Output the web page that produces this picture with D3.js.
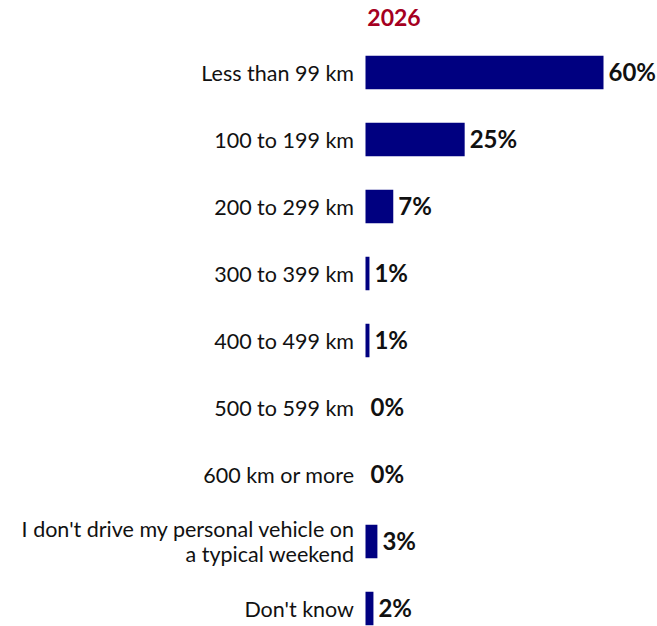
<!DOCTYPE html>
<html>
<head>
    <meta http-equiv="Content-Type" content="text/html;charset=utf-8">
    <script src="https://d3js.org/d3.v7.min.js"></script>
    <style>
        html, body {
            margin: 0;
            padding: 0;
            background: #fff;
        }

        svg {
            display: block;
            font-family: Lato, "Open Sans", sans-serif;
        }

        .cat text {
            font-size: 21.5px;
            fill: #111;
        }

        .val text {
            font-size: 24px;
            font-weight: bold;
            fill: #111;
        }

        .title {
            font-size: 23px;
            font-weight: bold;
            fill: #a50021;
        }
    </style>
</head>
<body>
<div id="chart"></div>
<script>
    // data
    var categories = [
        "Less than 99 km",
        "100 to 199 km",
        "200 to 299 km",
        "300 to 399 km",
        "400 to 499 km",
        "500 to 599 km",
        "600 km or more",
        "I don't drive my personal vehicle on|a typical weekend",
        "Don't know"
    ];
    var values2026 = [60, 25, 7, 1, 1, 0, 0, 3, 2];
    var seriesName = "2026";

    var width = 657,
        height = 626,
        barLeft = 365.5;

    var svg = d3.select("#chart").append("svg")
        .attr("width", width)
        .attr("height", height);

    var x = d3.scaleLinear()
        .domain([0, 60])
        .range([barLeft, barLeft + 238]);

    var y = d3.scaleBand()
        .domain(categories)
        .range([39, 642])
        .paddingInner(0.5)
        .paddingOuter(0.25);

    // series title
    svg.append("text")
        .attr("class", "title")
        .attr("x", 394)
        .attr("y", 26)
        .attr("text-anchor", "middle")
        .text(seriesName);

    // bars
    svg.append("g")
        .selectAll("rect")
        .data(values2026)
        .enter().append("rect")
        .attr("x", x(0))
        .attr("y", function (d, i) { return y(categories[i]); })
        .attr("width", function (d) { return x(d) - x(0); })
        .attr("height", y.bandwidth())
        .attr("fill", "#000080");

    // category labels (right aligned, | splits lines)
    var cat = svg.append("g").attr("class", "cat")
        .selectAll("text")
        .data(categories)
        .enter().append("text")
        .attr("text-anchor", "end")
        .attr("x", 354)
        .attr("y", function (d) { return y(d) + y.bandwidth() / 2; });

    cat.each(function (d) {
        var lines = d.split("|"),
            t = d3.select(this),
            lh = 24.5,
            off = -(lines.length - 1) * lh / 2;
        lines.forEach(function (line, j) {
            t.append("tspan")
                .attr("x", 354)
                .attr("dy", j === 0 ? (off / 21.5 + 0.38) + "em" : lh + "px")
                .text(line);
        });
    });

    // value labels
    svg.append("g").attr("class", "val")
        .selectAll("text")
        .data(values2026)
        .enter().append("text")
        .attr("x", function (d) { return x(d) + 5; })
        .attr("y", function (d, i) { return y(categories[i]) + y.bandwidth() / 2; })
        .attr("dy", "0.36em")
        .text(function (d) { return d + "%"; });
</script>
</body>
</html>
